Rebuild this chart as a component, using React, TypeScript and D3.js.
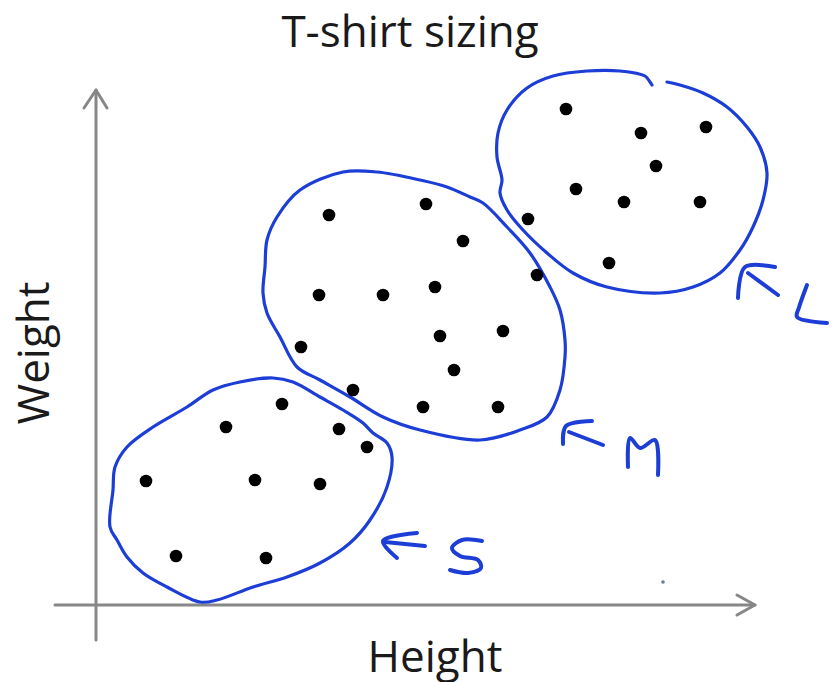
import React from "react";
import * as d3 from "d3";

// ---- Data (height in cm, weight in kg) ----
const title = "T-shirt sizing";
const xLabel = "Height";
const yLabel = "Weight";

const pointsS: [number, number][] = [
  [158.6, 80.2], [153.0, 75.6], [164.3, 75.2], [167.1, 71.6], [145.0, 64.8],
  [155.9, 65.0], [162.4, 64.2], [148.0, 49.8], [157.0, 49.4],
];
const pointsM: [number, number][] = [
  [163.3, 118.0], [173.0, 120.2], [176.7, 112.8], [162.3, 102.0], [168.7, 102.0],
  [173.9, 103.6], [184.1, 106.0], [180.7, 94.8], [174.4, 93.8], [160.5, 91.6],
  [175.8, 87.0], [165.7, 83.0], [172.7, 79.6], [180.2, 79.6],
];
const pointsL: [number, number][] = [
  [187.0, 139.2], [194.5, 134.4], [201.0, 135.6], [196.0, 127.8], [188.0, 123.2],
  [192.8, 120.6], [200.4, 120.6], [183.2, 117.2], [191.3, 108.4],
];
const specks: [number, number][] = [[196.7, 44.6]];

// hand-drawn cluster outlines
const outlineS: [number, number][] = [
  [157.7, 85.4], [154.4, 84.6], [151.7, 83.0], [149.1, 79.6], [145.7, 75.6],
  [143.1, 71.6], [141.9, 67.6], [141.7, 63.0], [141.4, 55.6], [142.1, 53.0],
  [143.1, 49.6], [144.7, 46.4], [147.1, 43.6], [150.4, 40.6], [152.1, 41.0],
  [155.7, 43.6], [159.1, 45.6], [162.4, 48.4], [165.4, 52.4], [167.4, 57.0],
  [169.1, 63.6], [169.6, 69.6], [169.1, 72.4], [167.7, 74.4], [166.7, 76.4],
  [164.7, 79.0], [162.4, 81.6], [159.7, 84.6],
];
const outlineM: [number, number][] = [
  [164.7, 126.6], [168.1, 126.6], [172.4, 125.0], [175.1, 123.6], [177.4, 121.6],
  [178.7, 120.4], [181.1, 115.6], [183.4, 110.4], [185.4, 103.6], [186.4, 99.0],
  [186.9, 93.0], [186.9, 89.6], [186.4, 83.0], [185.1, 77.6], [182.4, 75.0],
  [178.4, 73.0], [172.4, 75.0], [168.7, 77.6], [165.4, 81.6], [162.4, 85.0],
  [160.1, 87.6], [158.4, 93.6], [157.1, 98.4], [156.7, 102.4], [156.9, 107.6],
  [157.1, 113.0], [158.1, 117.6], [160.4, 123.0],
];
const outlineL: [number, number][] = [
  [197.1, 144.6], [198.4, 144.0], [200.7, 142.4], [203.1, 139.6], [205.1, 135.6],
  [206.4, 131.6], [207.1, 126.4], [206.7, 121.0], [205.7, 115.6], [204.4, 111.0],
  [202.4, 106.4], [199.7, 103.6], [196.4, 102.4], [191.1, 103.6], [187.7, 106.4],
  [185.1, 110.4], [182.7, 115.0], [181.1, 119.0], [180.4, 122.4], [180.6, 125.0],
  [180.1, 129.6], [180.2, 134.4], [181.1, 139.0], [183.1, 143.4], [185.7, 145.8],
  [189.1, 146.8], [192.4, 146.8], [194.9, 145.8], [195.4, 144.6], [195.6, 144.0],
];

// hand-written labels ("<- S", "<- M", "<- L") as strokes
const labelS: [number, number][][] = [
  [[172.1, 54.4], [168.7, 52.8], [170.1, 49.4]],
  [[168.9, 52.6], [172.9, 51.8]],
  [[178.6, 52.8], [176.6, 53.0], [175.6, 51.4], [176.4, 49.8], [178.2, 49.0], [178.5, 47.4], [177.2, 46.4], [175.4, 47.0]],
];
const labelM: [number, number][][] = [
  [[186.7, 72.2], [187.0, 75.8], [189.6, 76.8]],
  [[187.3, 74.6], [190.7, 72.0]],
  [[193.2, 67.6], [193.4, 73.4], [194.4, 71.4], [195.9, 73.0], [196.2, 66.0]],
];
const labelL: [number, number][][] = [
  [[207.9, 107.6], [204.9, 107.6], [204.2, 101.4]],
  [[205.2, 106.4], [208.2, 102.0]],
  [[211.1, 104.0], [210.3, 99.5], [210.1, 97.6], [213.1, 96.4]],
];

const xAxisExtent: [number, number] = [135.9, 205.9];
const yAxisExtent: [number, number] = [33, 143];
const axisOrigin: [number, number] = [140, 40];

export default function App() {
  const W = 839, H = 682;
  const x = d3.scaleLinear().domain([140, 205]).range([96, 746]);
  const y = d3.scaleLinear().domain([40, 142]).range([605, 95]);

  const closed = d3.line<[number, number]>().x(d => x(d[0])).y(d => y(d[1])).curve(d3.curveCatmullRomClosed);
  const open = d3.line<[number, number]>().x(d => x(d[0])).y(d => y(d[1])).curve(d3.curveCatmullRom);

  const blue = "#1c3ed6";
  const grey = "#878787";
  const font = "'Open Sans', 'Noto Sans', sans-serif";

  const ox = x(axisOrigin[0]);
  const oy = y(axisOrigin[1]);
  const xs = x(xAxisExtent[0]), xe = x(xAxisExtent[1]);
  const ys = y(yAxisExtent[0]), ye = y(yAxisExtent[1]);

  const allPts = [...pointsS, ...pointsM, ...pointsL];

  return (
    <svg width={W} height={H} style={{ position: "absolute", left: 0, top: 0, background: "#fff" }}>
      <rect width={W} height={H} fill="#fff" />
      <text x={410} y={47} textAnchor="middle" fontFamily={font} fontSize={44} fill="#1a1a1a">{title}</text>
      {/* axes */}
      <g stroke={grey} strokeWidth={3} fill="none" strokeLinecap="round" strokeLinejoin="round">
        <line x1={ox} y1={ys} x2={ox} y2={ye} />
        <line x1={xs} y1={oy} x2={xe} y2={oy} />
        <polyline points={`${ox - 12},${ye + 18} ${ox},${ye} ${ox + 11},${ye + 18}`} />
        <polyline points={`${xe - 18},${oy - 10} ${xe},${oy} ${xe - 18},${oy + 10}`} />
      </g>
      <text x={435} y={672} textAnchor="middle" fontFamily={font} fontSize={44} fill="#1a1a1a">{xLabel}</text>
      <text transform={`translate(49,353) rotate(-90)`} textAnchor="middle" fontFamily={font} fontSize={44} fill="#1a1a1a">{yLabel}</text>
      {/* outlines */}
      <g stroke={blue} strokeWidth={3.2} fill="none" strokeLinecap="round" strokeLinejoin="round">
        <path d={closed(outlineS) || ""} />
        <path d={closed(outlineM) || ""} />
        <path d={open(outlineL) || ""} />
      </g>
      <g stroke={blue} strokeWidth={4} fill="none" strokeLinecap="round" strokeLinejoin="round">
        {[...labelS, ...labelM, ...labelL].map((s, i) => (
          <path key={i} d={open(s) || ""} />
        ))}
      </g>
      {/* points */}
      <g fill="#000">
        {allPts.map((p, i) => (
          <circle key={i} cx={x(p[0])} cy={y(p[1])} r={6.3} />
        ))}
      </g>
      {specks.map((p, i) => (
        <circle key={"s" + i} cx={x(p[0])} cy={y(p[1])} r={1.8} fill="#6a7a90" />
      ))}
    </svg>
  );
}
